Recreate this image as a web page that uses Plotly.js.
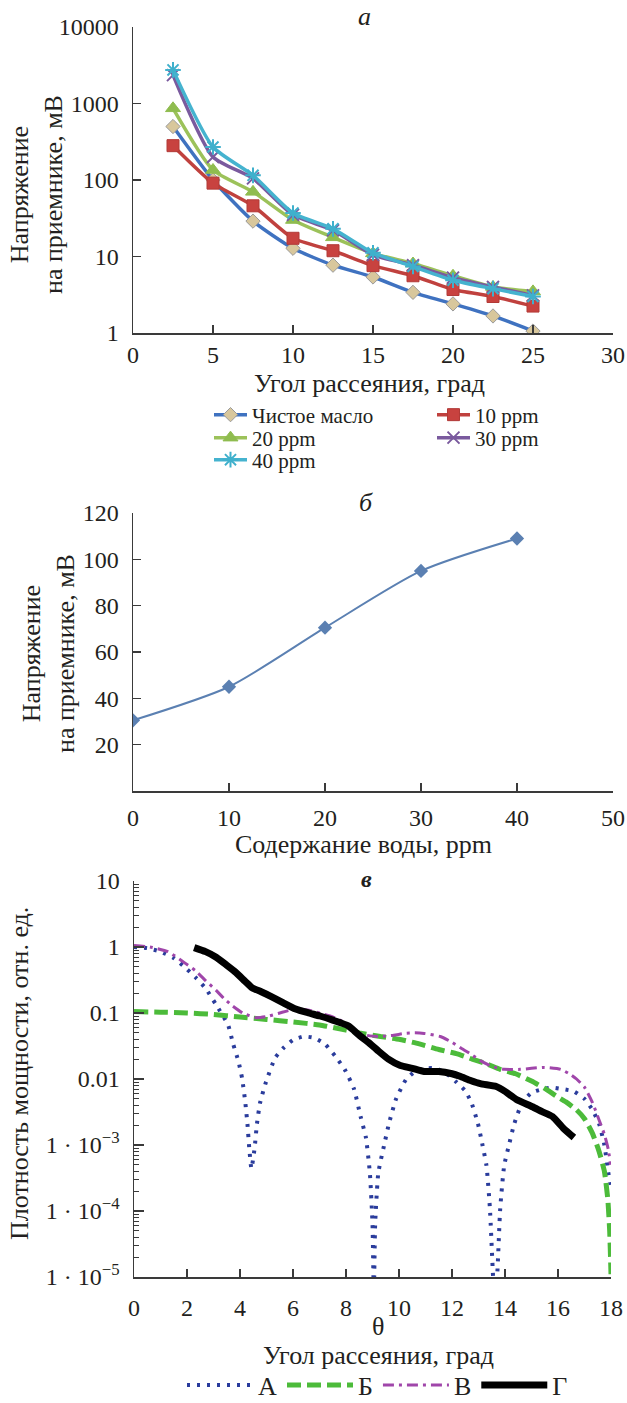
<!DOCTYPE html>
<html><head><meta charset="utf-8">
<script src="https://cdn.plot.ly/plotly-3.0.1.min.js"></script>
<style>html,body{margin:0;padding:0;background:#fff}#g{width:627px;height:1403px}</style>
</head><body><div id="g"></div>
<script>
// ---------- Panel а data ----------
const angleA = [2.5, 5, 7.5, 10, 12.5, 15, 17.5, 20, 22.5, 25];
const pureOil = [500, 100, 29, 12.8, 7.7, 5.4, 3.4, 2.4, 1.67, 1.06];
const ppm10 = [281, 91, 46, 17.3, 11.9, 7.6, 5.6, 3.7, 3.0, 2.25];
const ppm20 = [865, 135, 70, 30, 17.8, 11, 8.1, 5.6, 4.0, 3.5];
const ppm30 = [2350, 200, 105, 35, 22, 10.5, 7.7, 5.3, 4.0, 3.1];
const ppm40 = [2750, 270, 115, 37, 23, 11.2, 7.4, 4.9, 3.8, 3.0];
const namesA = ["Чистое масло", "10 ppm", "20 ppm", "30 ppm", "40 ppm"];

// ---------- Panel б data ----------
const water = [0, 10, 20, 30, 40];
const voltage = [30.5, 45, 70.5, 95, 109];

// ---------- Panel в data ----------
const xA = [0,0.5,1,1.5,2,2.34,2.69,3.1,3.55,3.74,3.94,4.08,4.2,4.28,4.35,4.43,4.55,4.64,4.76,4.98,5.33,5.66,6,6.4,6.8,7.2,7.6,7.95,8.3,8.55,8.75,8.9,9,9.05,9.1,9.22,9.44,9.62,9.89,10.27,10.6,11,11.4,11.8,12.16,12.5,12.73,12.98,13.15,13.3,13.43,13.55,13.6,13.7,13.82,13.97,14.15,14.35,14.65,15,15.4,15.8,16.2,16.6,17,17.3,17.55,17.75,17.9,18];
const yA = [1,0.96,0.85,0.68,0.46,0.34,0.24,0.133,0.066,0.034,0.0186,0.0102,0.0044,0.0021,0.00089,0.00044,0.00089,0.0021,0.0044,0.009,0.021,0.03,0.039,0.044,0.042,0.034,0.022,0.014,0.0071,0.0027,0.0013,0.00038,0.000063,0.000005,0.000063,0.00038,0.001,0.0021,0.005,0.0099,0.0129,0.0145,0.0145,0.012,0.009,0.0066,0.0044,0.0021,0.001,0.00049,0.00011,0.00001,0.000005,0.00001,0.00011,0.00049,0.001,0.0021,0.0044,0.0062,0.007,0.0074,0.007,0.0065,0.005,0.0034,0.0021,0.001,0.00038,0.00023];
const xB = [0,1,2,3,4,5,6,7,8,8.5,9.3,10,10.65,11.5,12.2,12.76,13.3,13.82,14.4,15,15.5,15.94,16.3,16.7,17,17.3,17.55,17.75,17.88,17.95,18];
const yB = [0.105,0.103,0.1,0.095,0.087,0.08,0.073,0.066,0.055,0.05,0.044,0.04,0.035,0.028,0.024,0.02,0.017,0.014,0.012,0.0093,0.0072,0.0055,0.0045,0.0034,0.0025,0.0015,0.0008,0.0004,0.00015,0.00005,0.000011];
const xV = [0,0.6,1.28,1.8,2.34,2.7,3.1,3.4,3.7,4.1,4.6,5,5.5,6.1,6.6,7,7.4,7.78,8.2,8.5,8.9,9.3,9.8,10.2,10.6,10.95,11.56,12,12.3,12.7,13.07,13.5,13.97,14.58,15,15.48,16.1,16.5,16.7,17,17.3,17.55,17.75,17.9,17.98];
const yV = [1.05,1.0,0.85,0.62,0.43,0.31,0.22,0.165,0.13,0.1,0.085,0.088,0.1,0.115,0.11,0.1,0.09,0.078,0.06,0.049,0.045,0.044,0.046,0.049,0.05,0.049,0.044,0.036,0.03,0.024,0.019,0.0155,0.014,0.014,0.0145,0.015,0.014,0.0115,0.01,0.0075,0.0044,0.0024,0.00145,0.00085,0.0005];
const xG = [2.27,2.7,3.1,3.5,3.85,4.2,4.46,4.8,5.2,5.6,6.1,6.6,7.02,7.5,8.08,8.5,8.84,9.2,9.6,10.05,10.5,10.95,11.5,12,12.3,12.7,13.07,13.67,14,14.43,15.03,15.4,15.79,16.2,16.6];
const yG = [0.98,0.85,0.7,0.53,0.41,0.3,0.24,0.21,0.176,0.145,0.115,0.1,0.09,0.078,0.064,0.046,0.036,0.027,0.02,0.016,0.0145,0.013,0.013,0.012,0.011,0.0095,0.0085,0.0077,0.0065,0.0049,0.0038,0.0032,0.0027,0.0018,0.0013];
const namesV = ["А", "Б", "В", "Г"];

// ---------- tick labels ----------
const tickA = [1, 10, 100, 1000, 10000];
const tickAtext = ["1", "10", "100", "1000", "10000"];
const tickC = [1e-5, 1e-4, 1e-3, 0.01, 0.1, 1, 10];
const tickCtext = ["1 · 10<sup>−5</sup>", "1 · 10<sup>−4</sup>", "1 · 10<sup>−3</sup>", "0.01", "0.1", "1", "10"];

const W = 627, H = 1403;
const px = p => p / W;
const py = p => 1 - p / H;
const FONT = "Liberation Serif, Times New Roman, serif";
const TXT = "#231f20";
const AX = "#3a3a3a";

const traces = [];
const lineColA = ["#3f72c0", "#c0413e", "#9cc25a", "#7a5a9e", "#45b3cf"];
const seriesA = [pureOil, ppm10, ppm20, ppm30, ppm40];
const markers = [
  {symbol: "diamond", size: 11, color: "#d8c79c", line: {color: "#9a9a9a", width: 1}},
  {symbol: "square", size: 12, color: "#c8423f", line: {color: "#b23a37", width: 1}},
  {symbol: "triangle-up", size: 13, color: "#8fbc4f", line: {color: "#8fbc4f", width: 1}},
  {symbol: "x-thin-open", size: 12, color: "#7a5a9e", line: {color: "#7a5a9e", width: 2}},
  {symbol: "asterisk-open", size: 13, color: "#3fb0cc", line: {color: "#3fb0cc", width: 2}}
];
const legOf = ["legend", "legend", "legend2", "legend2", "legend4"];
for (let i = 0; i < 5; i++) {
  traces.push({
    x: angleA, y: seriesA[i], name: namesA[i], type: "scatter", mode: "lines+markers",
    xaxis: "x", yaxis: "y", legend: legOf[i],
    line: {color: lineColA[i], width: 3.5, shape: "spline", smoothing: 0.6},
    marker: markers[i]
  });
}
traces.push({
  x: water, y: voltage, type: "scatter", mode: "lines+markers", xaxis: "x2", yaxis: "y2",
  showlegend: false, line: {color: "#5b80b2", width: 2, shape: "spline", smoothing: 0.7},
  marker: {symbol: "diamond", size: 11, color: "#5b80b2"}
});
const seriesC = [[xA, yA], [xB, yB], [xV, yV], [xG, yG]];
const stylesC = [
  {color: "#2a3c9c", width: 4, dash: "3px,7px"},
  {color: "#4cbb3a", width: 5, dash: "14px,6px"},
  {color: "#a046aa", width: 3, dash: "11px,5px,3px,5px"},
  {color: "#000000", width: 7}
];
for (let i = 0; i < 4; i++) {
  traces.push({
    x: seriesC[i][0], y: seriesC[i][1], name: namesV[i], type: "scatter", mode: "lines",
    xaxis: "x3", yaxis: "y3", legend: "legend3",
    line: Object.assign({shape: "spline", smoothing: 0.5}, stylesC[i])
  });
}

const tickFont = {family: FONT, size: 24, color: TXT};
const baseAx = {showline: true, linecolor: AX, linewidth: 1.5, showgrid: false, zeroline: false,
  ticks: "inside", tickcolor: AX, tickwidth: 1.5, ticklen: 8, tickfont: tickFont, fixedrange: true, automargin: false};

const legA = (x, y) => ({x: px(x), y: py(y), xanchor: "left", yanchor: "middle", orientation: "h",
  itemwidth: 33, entrywidth: 175, entrywidthmode: "pixels",
  font: {family: FONT, size: 21, color: TXT}, bgcolor: "rgba(0,0,0,0)"});

const ann = (text, x, y, size, extra) => Object.assign({text: text, x: px(x), y: py(y), xref: "paper", yref: "paper",
  xanchor: "center", yanchor: "middle", showarrow: false, font: {family: FONT, size: size, color: TXT}}, extra || {});

const layout = {
  width: W, height: H, margin: {l: 0, r: 0, t: 0, b: 0, pad: 0, autoexpand: false},
  paper_bgcolor: "#fff", plot_bgcolor: "#fff",
  font: {family: FONT, color: TXT},
  xaxis: Object.assign({}, baseAx, {domain: [px(133), px(613)], range: [0, 30], tickvals: [0,5,10,15,20,25,30], anchor: "y", ticklabelstandoff: 0}),
  yaxis: Object.assign({}, baseAx, {domain: [py(333), py(27)], type: "log", range: [0, 4], tickvals: tickA, ticktext: tickAtext, anchor: "x", ticklabelstandoff: 8}),
  xaxis2: Object.assign({}, baseAx, {domain: [px(133), px(613)], range: [0, 50], tickvals: [0,10,20,30,40,50], anchor: "y2", ticklabelstandoff: 5}),
  yaxis2: Object.assign({}, baseAx, {domain: [py(791), py(513)], range: [0, 120], tickvals: [20,40,60,80,100,120], anchor: "x2", ticklabelstandoff: 8}),
  xaxis3: Object.assign({}, baseAx, {domain: [px(134), px(611)], range: [0, 18], tickvals: [0,2,4,6,8,10,12,14,16,18], anchor: "y3", ticklabelstandoff: 9}),
  yaxis3: Object.assign({}, baseAx, {domain: [py(1277), py(881)], type: "log", range: [-5, 1], tickvals: tickC, ticktext: tickCtext, anchor: "x3", ticklen: 10, ticklabelstandoff: 8,
    minor: {ticks: "inside", ticklen: 5, tickcolor: AX, tickwidth: 1, dtick: "D1", showgrid: false}}),
  legend: legA(209, 415),
  legend2: legA(209, 438),
  legend4: legA(209, 460),
  legend3: {x: px(182), y: py(1385), xanchor: "left", yanchor: "middle", orientation: "h", itemwidth: 66,
    font: {family: FONT, size: 26, color: TXT}, bgcolor: "rgba(0,0,0,0)"},
  annotations: [
    ann("<i>а</i>", 364, 17, 26),
    ann("<i>б</i>", 366, 502, 26),
    ann("<b><i>в</i></b>", 366, 879, 24),
    ann("Напряжение<br>на приемнике, мВ", 36, 195, 26, {textangle: -90}),
    ann("Напряжение<br>на приемнике, мВ", 49, 654, 26, {textangle: -90}),
    ann("Плотность мощности, отн. ед.", 19, 1074, 26, {textangle: -90}),
    ann("Угол рассеяния, град", 369, 383, 26),
    ann("Содержание воды, ppm", 363, 845, 26),
    ann("θ", 378, 1326, 26),
    ann("Угол рассеяния, град", 378, 1355, 26)
  ]
};

Plotly.newPlot("g", traces, layout, {displayModeBar: false, staticPlot: true});
</script>
</body></html>
